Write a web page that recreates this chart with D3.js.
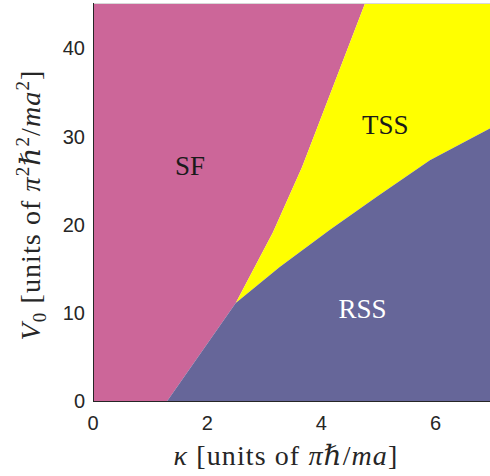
<!DOCTYPE html>
<html>
<head>
<meta charset="utf-8">
<script src="https://cdn.jsdelivr.net/npm/d3@7"></script>
<style>
html,body{margin:0;padding:0;background:#fff;overflow:hidden;}
svg{display:block;}
</style>
</head>
<body>
<script>
// ---- data (kappa, V0) ----
const sfRssBoundary = [[1.30, 0], [2.50, 11.1]];
const sfTssBoundary = [[2.50, 11.1], [3.15, 19.1], [3.48, 23.9], [3.66, 26.5], [3.91, 30.7], [4.76, 45]];
const tssRssBoundary = [[2.50, 11.1], [3.27, 15.2], [4.15, 19.4], [4.97, 23.15], [5.90, 27.3], [6.95, 30.9], [7.0, 31.1]];
const xTicks = [0, 2, 4, 6];
const yTicks = [0, 10, 20, 30, 40];
const xDomain = [0, 7];
const yDomain = [0, 45];
const phaseLabels = [
  {name: "SF", x: 1.70, y: 25.6, color: "#1a1a1a"},
  {name: "TSS", x: 5.12, y: 30.3, color: "#1a1a1a"},
  {name: "RSS", x: 4.72, y: 9.4, color: "#ffffff"}
];
const colors = {SF: "#CC6699", TSS: "#FFFF00", RSS: "#666699"};

// ---- layout ----
const W = 490, H = 476;
const x = d3.scaleLinear().domain(xDomain).range([93, 492.7]);
const y = d3.scaleLinear().domain(yDomain).range([401, 4]);

const svg = d3.select("body").append("svg").attr("width", W).attr("height", H);
svg.append("defs").append("clipPath").attr("id", "clip")
  .append("rect").attr("x", 93).attr("y", 3).attr("width", 400).attr("height", 398);

const line = d3.line().x(d => x(d[0])).y(d => y(d[1]));
const [x0, x1] = xDomain, [y0, y1] = yDomain;
const rssRight = tssRssBoundary[tssRssBoundary.length - 1];

const sfPoly = [[x0, y0], sfRssBoundary[0], ...sfTssBoundary, [x0, y1]];
const rssPoly = [sfRssBoundary[0], [x1, y0], rssRight, ...tssRssBoundary.slice().reverse()];
const tssPoly = [...sfTssBoundary, [x1, y1], ...tssRssBoundary.slice().reverse()];

const g = svg.append("g").attr("clip-path", "url(#clip)");
g.append("path").attr("d", line(sfPoly) + "Z").attr("fill", colors.SF);
g.append("path").attr("d", line(tssPoly) + "Z").attr("fill", colors.TSS);
g.append("path").attr("d", line(rssPoly) + "Z").attr("fill", colors.RSS);

// axes frame
svg.append("line").attr("x1", 93).attr("x2", 490).attr("y1", 3.5).attr("y2", 3.5)
  .attr("stroke", "#d8d8d8").attr("stroke-width", 1);
svg.append("line").attr("x1", 93).attr("x2", 490).attr("y1", 401.5).attr("y2", 401.5)
  .attr("stroke", "#262626").attr("stroke-width", 1);
svg.append("line").attr("x1", 93.5).attr("x2", 93.5).attr("y1", 3).attr("y2", 402)
  .attr("stroke", "#262626").attr("stroke-width", 1);

// tick labels
const tickFont = "'Liberation Sans', Arial, Helvetica, sans-serif";
svg.append("g").selectAll("text").data(xTicks).join("text")
  .attr("x", d => x(d)).attr("y", 430)
  .attr("text-anchor", "middle")
  .attr("font-family", tickFont).attr("font-size", 20).attr("fill", "#262626")
  .text(d => d);
svg.append("g").selectAll("text").data(yTicks).join("text")
  .attr("x", 85).attr("y", d => y(d)).attr("dy", "0.36em")
  .attr("text-anchor", "end")
  .attr("font-family", tickFont).attr("font-size", 20).attr("fill", "#262626")
  .text(d => d);

// phase labels
svg.append("g").selectAll("text").data(phaseLabels).join("text")
  .attr("x", d => x(d.x)).attr("y", d => y(d.y))
  .attr("text-anchor", "middle")
  .attr("font-family", "'Liberation Serif', 'Times New Roman', serif")
  .attr("font-size", 27).attr("fill", d => d.color)
  .text(d => d.name);

// axis titles
const serif = "'Liberation Serif', 'DejaVu Serif', serif";
const fs = 28, sup = 19;
const xt = svg.append("text").attr("x", 286).attr("y", 465)
  .attr("text-anchor", "middle").attr("font-family", serif).attr("font-size", fs)
  .attr("letter-spacing", 1.1).attr("fill", "#262626");
xt.append("tspan").attr("font-style", "italic").text("κ");
xt.append("tspan").text(" [units of ");
xt.append("tspan").attr("font-style", "italic").text("πℏ");
xt.append("tspan").text("/");
xt.append("tspan").attr("font-style", "italic").text("ma");
xt.append("tspan").text("]");

const yt = svg.append("text").attr("transform", "translate(40,205) rotate(-90)")
  .attr("text-anchor", "middle").attr("font-family", serif).attr("font-size", fs)
  .attr("letter-spacing", 1.1).attr("fill", "#262626");
yt.append("tspan").attr("font-style", "italic").text("V");
yt.append("tspan").attr("font-size", sup).attr("dy", 6).text("0");
yt.append("tspan").attr("dy", -6).text(" [units of ");
yt.append("tspan").attr("font-style", "italic").text("π");
yt.append("tspan").attr("font-size", sup).attr("dy", -11).text("2");
yt.append("tspan").attr("font-style", "italic").attr("dy", 11).text("ℏ");
yt.append("tspan").attr("font-size", sup).attr("dy", -11).text("2");
yt.append("tspan").attr("dy", 11).text("/");
yt.append("tspan").attr("font-style", "italic").text("ma");
yt.append("tspan").attr("font-size", sup).attr("dy", -11).text("2");
yt.append("tspan").attr("dy", 11).text("]");
</script>
</body>
</html>
